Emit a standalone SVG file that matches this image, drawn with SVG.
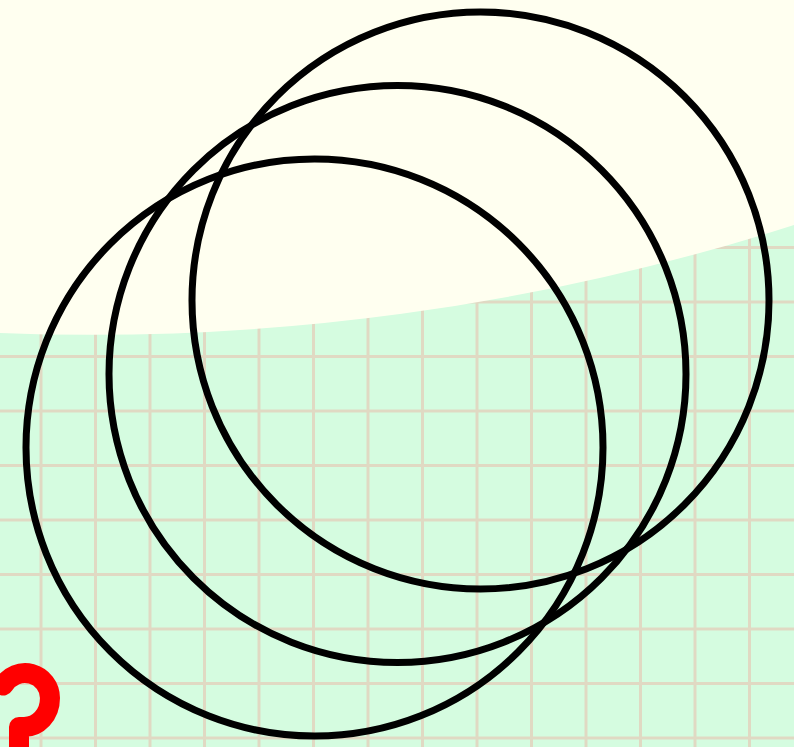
<svg xmlns="http://www.w3.org/2000/svg" width="794" height="747" viewBox="0 0 794 747">
  <defs>
    <style>
      .grid line { stroke: #e0d9c3; stroke-width: 3; }
      .ring { fill: none; stroke: #000000; stroke-width: 7; }
    </style>
  </defs>
  <rect id="ground" x="0" y="0" width="794" height="747" fill="#d5fce0"/>
  <g id="grid" class="grid">
    <line x1="41" y1="0" x2="41" y2="747"/>
    <line x1="95.5" y1="0" x2="95.5" y2="747"/>
    <line x1="150" y1="0" x2="150" y2="747"/>
    <line x1="204.5" y1="0" x2="204.5" y2="747"/>
    <line x1="259" y1="0" x2="259" y2="747"/>
    <line x1="313.5" y1="0" x2="313.5" y2="747"/>
    <line x1="368" y1="0" x2="368" y2="747"/>
    <line x1="422.5" y1="0" x2="422.5" y2="747"/>
    <line x1="477" y1="0" x2="477" y2="747"/>
    <line x1="531.5" y1="0" x2="531.5" y2="747"/>
    <line x1="586" y1="0" x2="586" y2="747"/>
    <line x1="640.5" y1="0" x2="640.5" y2="747"/>
    <line x1="695" y1="0" x2="695" y2="747"/>
    <line x1="749.5" y1="0" x2="749.5" y2="747"/>
    <line x1="0" y1="247.5" x2="794" y2="247.5"/>
    <line x1="0" y1="302" x2="794" y2="302"/>
    <line x1="0" y1="356.5" x2="794" y2="356.5"/>
    <line x1="0" y1="411" x2="794" y2="411"/>
    <line x1="0" y1="465.5" x2="794" y2="465.5"/>
    <line x1="0" y1="520" x2="794" y2="520"/>
    <line x1="0" y1="574.5" x2="794" y2="574.5"/>
    <line x1="0" y1="629" x2="794" y2="629"/>
    <line x1="0" y1="683.5" x2="794" y2="683.5"/>
    <line x1="0" y1="738" x2="794" y2="738"/>
  </g>
  <path id="sky" d="M0,0 H794 V225 A2300,2300 0 0 1 0,333 Z" fill="#fffff0"/>
  <path id="question" d="M3.4,685.5 A25,25 0 0 1 50,698 C50,715 38,727 24,727 L19,727 L19,760" fill="none" stroke="#ff0000" stroke-width="20" stroke-linecap="round" stroke-linejoin="round"/>
  <g id="circle1"><circle class="ring" cx="480.5" cy="300.5" r="288.5"/></g>
  <g id="circle2"><circle class="ring" cx="397.5" cy="374" r="288.5"/></g>
  <g id="circle3"><circle class="ring" cx="314.5" cy="447.5" r="288.5"/></g>
</svg>
